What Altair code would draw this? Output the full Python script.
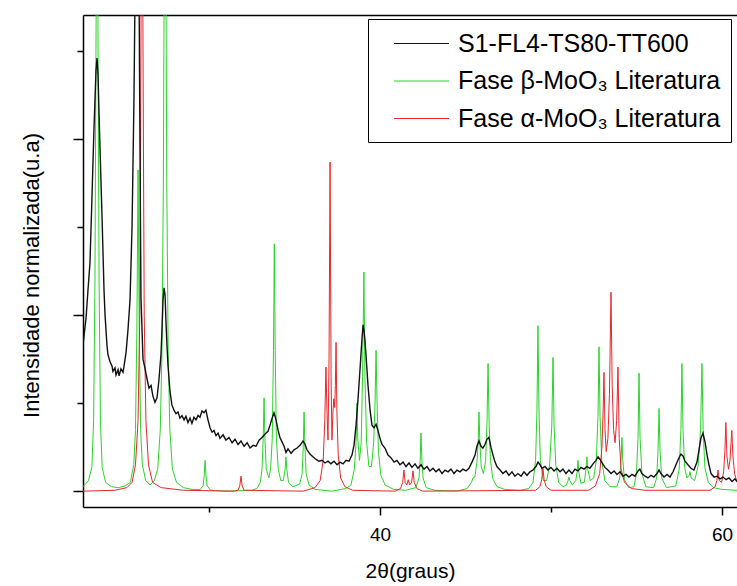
import altair as alt
import pandas as pd

# ---- data (2theta in degrees, normalized intensity) ----
label_black = "S1-FL4-TS80-TT600"
label_green = "Fase β-MoO₃ Literatura"
label_red = "Fase α-MoO₃ Literatura"

black_pts = [
(22.63,1.66),(22.81,1.97),(22.92,2.28),(23.04,2.60),(23.15,3.31),(23.27,4.10),(23.39,4.78),(23.45,4.92),(23.51,4.73),(23.57,4.27),(23.68,3.53),(23.74,3.14),(23.86,2.28),(23.92,2.00),(24.03,1.66),(24.09,1.55),(24.21,1.47),(24.33,1.42),(24.38,1.36),(24.50,1.40),(24.56,1.32),(24.68,1.38),(24.74,1.31),(24.85,1.39),(24.97,1.35),(25.03,1.42),(25.15,1.58),(25.26,1.83),(25.38,2.17),(25.50,3.02),(25.61,4.44),(25.67,5.6),(25.79,9.0),(25.90,6.0),(25.96,4.0),(26.02,2.2),(26.14,1.5),(26.25,1.40),(26.37,1.28),(26.49,1.17),(26.61,1.20),(26.72,1.08),(26.84,1.01),(26.96,1.06),(27.07,1.26),(27.19,1.55),(27.25,1.83),(27.31,2.17),(27.37,2.31),(27.43,2.23),(27.48,1.94),(27.54,1.66),(27.60,1.43),(27.72,1.13),(27.83,0.98),(27.95,0.92),(28.07,0.88),(28.19,0.90),(28.30,0.83),(28.42,0.86),(28.54,0.81),(28.65,0.85),(28.77,0.78),(28.89,0.83),(29.00,0.77),(29.12,0.84),(29.24,0.81),(29.36,0.86),(29.47,0.84),(29.59,0.91),(29.71,0.89),(29.82,0.92),(29.94,0.81),(30.06,0.72),(30.18,0.67),(30.29,0.69),(30.41,0.63),(30.53,0.66),(30.64,0.60),(30.82,0.64),(30.99,0.58),(31.17,0.61),(31.35,0.55),(31.52,0.59),(31.70,0.53),(31.87,0.57),(32.05,0.51),(32.23,0.55),(32.40,0.49),(32.58,0.52),(32.75,0.51),(32.93,0.58),(33.10,0.61),(33.28,0.65),(33.45,0.68),(33.57,0.75),(33.69,0.83),(33.80,0.89),(33.92,0.81),(34.04,0.69),(34.15,0.61),(34.27,0.56),(34.39,0.51),(34.50,0.44),(34.62,0.48),(34.80,0.43),(34.97,0.47),(35.15,0.49),(35.32,0.52),(35.50,0.57),(35.62,0.53),(35.73,0.47),(35.91,0.42),(36.08,0.39),(36.26,0.36),(36.43,0.34),(36.61,0.35),(36.78,0.32),(36.96,0.34),(37.13,0.31),(37.31,0.34),(37.49,0.30),(37.66,0.33),(37.84,0.31),(38.01,0.35),(38.19,0.34),(38.36,0.41),(38.48,0.52),(38.60,0.75),(38.71,1.03),(38.83,1.38),(38.95,1.74),(39.01,1.89),(39.06,1.83),(39.12,1.72),(39.18,1.55),(39.30,1.20),(39.42,0.92),(39.53,0.75),(39.65,0.72),(39.77,0.76),(39.88,0.69),(40.00,0.60),(40.12,0.53),(40.29,0.49),(40.47,0.41),(40.64,0.38),(40.82,0.33),(40.99,0.35),(41.17,0.30),(41.35,0.33),(41.52,0.28),(41.70,0.32),(41.87,0.27),(42.05,0.31),(42.22,0.26),(42.40,0.30),(42.57,0.25),(42.75,0.28),(42.92,0.23),(43.10,0.26),(43.27,0.22),(43.45,0.25),(43.63,0.20),(43.80,0.24),(43.98,0.22),(44.15,0.25),(44.33,0.20),(44.50,0.24),(44.68,0.22),(44.85,0.25),(45.03,0.23),(45.20,0.26),(45.38,0.33),(45.56,0.41),(45.67,0.51),(45.79,0.57),(45.91,0.51),(46.02,0.49),(46.14,0.53),(46.26,0.59),(46.37,0.61),(46.49,0.50),(46.61,0.41),(46.73,0.33),(46.84,0.28),(47.02,0.24),(47.19,0.20),(47.37,0.23),(47.54,0.18),(47.72,0.22),(47.89,0.17),(48.07,0.20),(48.25,0.17),(48.42,0.22),(48.60,0.18),(48.77,0.22),(48.95,0.24),(49.12,0.28),(49.24,0.33),(49.36,0.30),(49.47,0.26),(49.65,0.28),(49.82,0.24),(50.00,0.27),(50.18,0.23),(50.35,0.26),(50.53,0.22),(50.70,0.25),(50.88,0.20),(51.05,0.24),(51.23,0.20),(51.40,0.25),(51.58,0.23),(51.76,0.27),(51.93,0.25),(52.11,0.28),(52.28,0.26),(52.46,0.31),(52.63,0.35),(52.75,0.39),(52.87,0.36),(52.99,0.32),(53.16,0.27),(53.33,0.24),(53.51,0.20),(53.69,0.23),(53.86,0.19),(54.04,0.22),(54.21,0.17),(54.39,0.19),(54.56,0.16),(54.74,0.19),(54.91,0.17),(55.09,0.23),(55.20,0.25),(55.32,0.20),(55.50,0.17),(55.67,0.15),(55.85,0.18),(56.02,0.16),(56.20,0.20),(56.32,0.24),(56.43,0.20),(56.61,0.16),(56.79,0.19),(56.96,0.16),(57.14,0.22),(57.31,0.30),(57.49,0.38),(57.60,0.42),(57.72,0.40),(57.84,0.34),(58.01,0.30),(58.19,0.26),(58.36,0.24),(58.54,0.33),(58.66,0.47),(58.77,0.60),(58.89,0.66),(59.01,0.56),(59.13,0.41),(59.24,0.30),(59.36,0.20),(59.54,0.16),(59.71,0.17),(59.89,0.14),(60.06,0.16),(60.24,0.13),(60.41,0.15),(60.59,0.11),(60.76,0.14),(60.88,0.11)
]

green_pts = [
(22.63,0.05),(22.95,0.12),(23.15,0.27),(23.25,0.8),(23.33,2.4),(23.40,5.5),(23.45,9.0),(23.50,5.5),(23.57,2.4),(23.65,0.8),(23.75,0.27),(23.95,0.1),(24.3,0.05),(24.7,0.04),(25.1,0.06),(25.4,0.1),(25.6,0.3),(25.7,0.7),(25.78,1.8),(25.85,3.65),(25.92,1.8),(26.0,0.7),(26.1,0.3),(26.3,0.12),(26.55,0.07),(26.8,0.12),(27.0,0.25),(27.15,0.7),(27.25,1.6),(27.33,3.5),(27.38,6.0),(27.43,9.0),(27.48,6.0),(27.53,3.5),(27.61,1.6),(27.71,0.7),(27.86,0.25),(28.1,0.1),(28.5,0.04),(29.0,0.02),
(29.5,0.02),(29.65,0.06),(29.72,0.18),(29.77,0.35),(29.82,0.18),(29.89,0.06),(30.1,0.01),(31.0,0.0),(32.5,0.01),
(32.8,0.03),(33.0,0.1),(33.1,0.25),(33.17,0.6),(33.22,1.06),(33.27,0.6),(33.35,0.25),(33.5,0.15),(33.6,0.25),(33.7,0.6),(33.77,1.6),(33.82,2.81),(33.87,1.6),(33.94,0.6),(34.05,0.25),(34.2,0.12),(34.35,0.12),(34.45,0.25),(34.50,0.39),(34.55,0.25),(34.65,0.1),(34.9,0.05),
(35.3,0.08),(35.45,0.2),(35.51,0.5),(35.56,0.9),(35.61,0.5),(35.68,0.2),(35.85,0.07),(36.2,0.02),(37.2,0.0),(38.0,0.03),
(38.3,0.07),(38.5,0.25),(38.6,0.55),(38.65,1.0),(38.70,0.6),(38.80,0.35),(38.90,0.55),(38.98,1.3),(39.06,2.49),(39.12,1.3),(39.22,0.55),(39.35,0.28),(39.5,0.28),(39.63,0.55),(39.71,1.0),(39.77,1.6),(39.83,1.0),(39.91,0.45),(40.05,0.18),(40.3,0.07),(40.8,0.02),
(41.5,0.01),(42.1,0.04),(42.28,0.15),(42.35,0.35),(42.40,0.66),(42.45,0.35),(42.52,0.15),(42.7,0.04),(43.2,0.01),(44.5,0.0),
(45.1,0.03),(45.35,0.1),(45.44,0.15),(45.55,0.16),(45.68,0.35),(45.74,0.55),(45.79,0.9),(45.84,0.55),(45.92,0.28),(46.05,0.2),(46.18,0.35),(46.26,0.8),(46.32,1.45),(46.38,0.8),(46.46,0.35),(46.6,0.14),(46.85,0.05),(47.3,0.02),(48.2,0.01),
(48.7,0.03),(48.95,0.1),(49.1,0.35),(49.18,0.9),(49.24,1.88),(49.30,0.9),(49.38,0.35),(49.55,0.12),(49.75,0.12),(49.92,0.3),(50.05,0.75),(50.12,1.52),(50.18,0.75),(50.28,0.3),(50.45,0.1),(50.7,0.05),
(50.9,0.07),(51.0,0.12),(51.05,0.16),(51.1,0.12),(51.25,0.07),(51.45,0.12),(51.53,0.22),(51.58,0.35),(51.63,0.22),(51.75,0.09),(51.95,0.1),(52.05,0.25),(52.10,0.39),(52.15,0.25),(52.3,0.12),(52.5,0.15),(52.65,0.35),(52.75,0.85),(52.81,1.64),(52.87,0.85),(52.97,0.35),(53.15,0.12),(53.45,0.05),
(53.85,0.05),(54.02,0.15),(54.10,0.35),(54.15,0.61),(54.20,0.35),(54.30,0.13),(54.55,0.04),
(54.85,0.05),(55.0,0.2),(55.09,0.6),(55.15,1.34),(55.21,0.6),(55.32,0.2),(55.55,0.05),
(56.0,0.04),(56.18,0.15),(56.26,0.45),(56.32,0.94),(56.38,0.45),(56.48,0.15),(56.75,0.04),
(57.3,0.06),(57.5,0.25),(57.6,0.7),(57.66,1.45),(57.72,0.7),(57.82,0.27),(57.95,0.15),(58.08,0.18),(58.13,0.22),(58.2,0.15),(58.4,0.12),(58.6,0.28),(58.75,0.7),(58.83,1.45),(58.90,0.7),(59.0,0.27),(59.2,0.1),(59.5,0.04),(60.0,0.02),(60.88,0.01)
]

red_pts = [
(22.63,0.0),(24.5,0.01),(25.2,0.04),(25.5,0.1),(25.7,0.3),(25.85,0.8),(25.95,2.0),(26.02,5.0),(26.08,9.0),(26.14,5.0),(26.21,2.0),(26.31,0.8),(26.46,0.3),(26.7,0.1),(27.2,0.04),(28.5,0.01),(31.5,0.0),(31.7,0.01),(31.8,0.06),(31.87,0.17),(31.94,0.06),(32.05,0.01),(35.5,0.0),(36.2,0.04),(36.5,0.12),(36.68,0.35),(36.77,0.8),(36.84,1.41),(36.90,0.9),(36.96,0.58),(37.02,1.5),(37.08,3.74),(37.14,1.3),(37.19,0.58),(37.25,0.9),(37.30,1.05),(37.35,0.95),(37.39,1.2),(37.43,1.69),(37.48,0.9),(37.56,0.4),(37.7,0.15),(37.95,0.05),(38.4,0.01),(40.9,0.0),(41.2,0.03),(41.33,0.1),(41.40,0.24),(41.47,0.1),(41.57,0.07),(41.65,0.13),(41.73,0.07),(41.85,0.1),(41.93,0.23),(42.0,0.1),(42.15,0.03),(42.5,0.0),(49.1,0.01),(49.35,0.05),(49.46,0.13),(49.53,0.26),(49.60,0.13),(49.72,0.05),(50.0,0.01),(52.2,0.01),(52.6,0.06),(52.85,0.2),(52.98,0.5),(53.05,0.9),(53.10,1.35),(53.16,0.7),(53.23,0.45),(53.33,0.6),(53.42,1.1),(53.51,2.26),(53.58,1.2),(53.66,0.7),(53.75,0.55),(53.84,0.8),(53.92,1.41),(53.99,0.6),(54.1,0.25),(54.3,0.1),(54.7,0.03),(55.5,0.01),(59.3,0.01),(59.6,0.05),(59.7,0.12),(59.77,0.24),(59.84,0.12),(59.98,0.1),(60.1,0.22),(60.17,0.45),(60.23,0.78),(60.29,0.4),(60.38,0.25),(60.47,0.35),(60.53,0.55),(60.58,0.69),(60.64,0.4),(60.74,0.2),(60.88,0.1)
]

x_ticks = [30, 40, 50, 60]
y_ticks = [0, 1, 2, 3, 4, 5]
x_domain = [22.63, 60.88]
y_domain = [-0.18, 5.41]

series_domain = [label_black, label_green, label_red]
series_colors = ["#111111", "#2ad42a", "#e8262c"]

FONT = "Liberation Sans"


def frame(pts, label):
    return pd.DataFrame({"x": [p[0] for p in pts], "y": [p[1] for p in pts], "serie": label})


color_enc = alt.Color(
    "serie:N",
    scale=alt.Scale(domain=series_domain, range=series_colors),
    legend=alt.Legend(
        title=None,
        orient="none",
        legendX=285,
        legendY=4,
        symbolType="M-2,0H2",
        symbolSize=756,
        symbolStrokeWidth=1.2,
        symbolOffset=29,
        labelFontSize=25,
        labelFont=FONT,
        labelColor="black",
        labelOffset=22,
        rowPadding=9.5,
        padding=10,
        strokeColor="black",
        fillColor="white",
        labelLimit=400,
    ),
)

x_main = alt.X(
    "x:Q",
    scale=alt.Scale(domain=x_domain, nice=False, zero=False),
    axis=alt.Axis(
        values=x_ticks,
        labelExpr="datum.value % 20 == 0 ? datum.label : ''",
        tickSize=alt.condition("datum.value % 20 == 0", alt.value(8), alt.value(5)),
        tickColor="black",
        tickWidth=1.5,
        domainColor="black",
        domainWidth=1.5,
        labelFont=FONT,
        labelFontSize=19,
        labelColor="black",
        labelPadding=10,
        grid=False,
        title="2θ(graus)",
        titleFont=FONT,
        titleFontSize=21,
        titleFontWeight="normal",
        titleColor="black",
        titleBaseline="alphabetic",
        titleY=70,
    ),
)

y_main = alt.Y(
    "y:Q",
    scale=alt.Scale(domain=y_domain, nice=False, zero=False),
    axis=alt.Axis(
        values=y_ticks,
        labels=False,
        tickSize=alt.condition("datum.value % 2 == 0", alt.value(10), alt.value(6)),
        tickColor="black",
        tickWidth=1.5,
        domainColor="black",
        domainWidth=1.5,
        grid=False,
        title="Intensidade normalizada(u.a)",
        titleFont=FONT,
        titleFontSize=22,
        titleFontWeight="normal",
        titleColor="black",
        titleBaseline="alphabetic",
        titleX=-45,
        titleY=260,
    ),
)

x_none = alt.X("x:Q", scale=alt.Scale(domain=x_domain, nice=False, zero=False), axis=None)
y_none = alt.Y("y:Q", scale=alt.Scale(domain=y_domain, nice=False, zero=False), axis=None)
x_top = alt.X(
    "x:Q",
    scale=alt.Scale(domain=x_domain, nice=False, zero=False),
    axis=alt.Axis(orient="top", labels=False, ticks=False, title=None, grid=False,
                  domainColor="black", domainWidth=1.5),
)

green_layer = alt.Chart(frame(green_pts, label_green)).mark_line(
    strokeWidth=1.0, clip=True
).encode(x=x_main, y=y_main, color=color_enc)

red_layer = alt.Chart(frame(red_pts, label_red)).mark_line(
    strokeWidth=1.0, clip=True
).encode(x=x_none, y=y_none, color=color_enc)

black_layer = alt.Chart(frame(black_pts, label_black)).mark_line(
    strokeWidth=1.4, clip=True
).encode(x=x_top, y=y_none, color=color_enc)

chart = (
    alt.layer(green_layer, red_layer, black_layer)
    .resolve_axis(x="independent", y="independent")
    .properties(
        width=654,
        height=492,
        autosize="none",
        padding={"left": 83, "top": 15, "right": 0, "bottom": 79},
        background="white",
    )
    .configure_view(stroke=None)
)

chart.save("out.html", embed_options={"renderer": "svg", "actions": False})
